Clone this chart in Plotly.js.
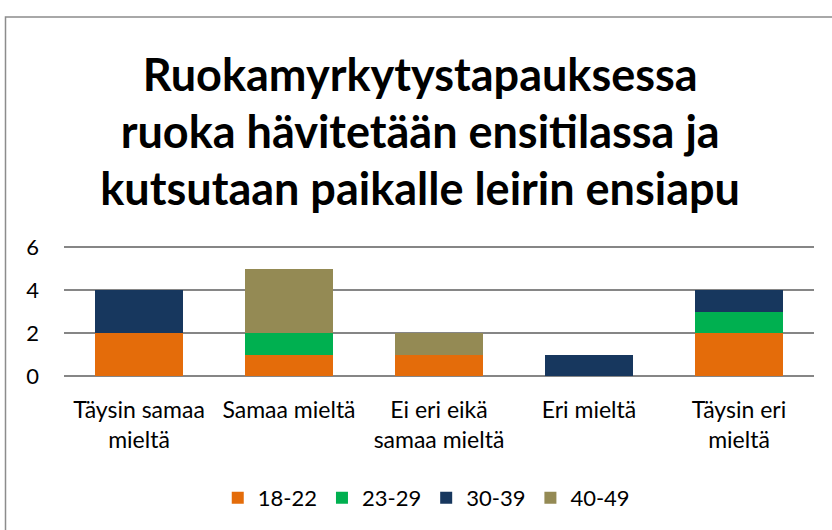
<!DOCTYPE html>
<html>
<head>
<meta charset="utf-8">
<script src="https://cdn.plot.ly/plotly-3.0.1.min.js"></script>
<style>html,body{margin:0;padding:0;background:#fff;}#chart{width:832px;height:530px;}</style>
</head>
<body>
<div id="chart"></div>
<script>
var categories = ["Täysin samaa<br>mieltä", "Samaa mieltä", "Ei eri eikä<br>samaa mieltä", "Eri mieltä", "Täysin eri<br>mieltä"];
var seriesNames = ["18-22", "23-29", "30-39", "40-49"];
var s18_22 = [2, 1, 1, 0, 2];
var s23_29 = [0, 1, 0, 0, 1];
var s30_39 = [2, 0, 0, 1, 1];
var s40_49 = [0, 3, 1, 0, 0];
var yTicks = [0, 2, 4, 6];
var titleLines = ["Ruokamyrkytystapauksessa", "ruoka hävitetään ensitilassa ja", "kutsutaan paikalle leirin ensiapu"];

var colors = ["#E46C0A", "#00B050", "#17375E", "#948A54"];
var allSeries = [s18_22, s23_29, s30_39, s40_49];
var FONT = "Lato, Carlito, Calibri, 'DejaVu Sans', sans-serif";

var traces = allSeries.map(function (vals, i) {
  return {
    type: "bar",
    name: seriesNames[i],
    x: categories,
    y: vals,
    marker: { color: colors[i], line: { width: 0 } },
    hoverinfo: "x+y+name"
  };
});

var layout = {
  width: 832,
  height: 530,
  barmode: "stack",
  bargap: 0.413,
  paper_bgcolor: "#ffffff",
  plot_bgcolor: "#ffffff",
  font: { family: FONT, color: "#000000", size: 22 },
  margin: { l: 64, r: 18, t: 245, b: 154 },
  title: {
    text: titleLines.map(function (t) { return '<span style="font-size:45px">' + t + '</span>'; }).join("<br>"),
    font: { family: FONT, size: 44, color: "#000000", weight: "bold" },
    x: 0.505,
    xanchor: "center",
    yref: "container",
    y: 0.829,
    yanchor: "middle"
  },
  xaxis: {
    type: "category",
    showgrid: false,
    zeroline: false,
    showline: false,
    ticks: "",
    tickfont: { family: FONT, size: 23, color: "#000000" },
    ticklabelstandoff: 18
  },
  yaxis: {
    range: [0, 6.1],
    tickvals: yTicks,
    showgrid: true,
    gridcolor: "#868686",
    gridwidth: 1.5,
    zeroline: true,
    zerolinecolor: "#868686",
    zerolinewidth: 1.5,
    showline: false,
    ticks: "",
    tickfont: { family: FONT, size: 22, color: "#000000" },
    ticklabelstandoff: 24
  },
  legend: {
    orientation: "h",
    x: 0.483,
    xanchor: "center",
    y: -0.93,
    yanchor: "middle",
    font: { family: FONT, size: 22, color: "#000000" },
    traceorder: "normal",
    itemwidth: 30,
    tracegroupgap: 0
  },
  shapes: [{
    type: "rect",
    xref: "paper", yref: "paper",
    x0: -0.078, x1: 2, y0: -2, y1: 2.74,
    line: { color: "#8C8C8C", width: 1.5 },
    fillcolor: "rgba(0,0,0,0)",
    layer: "below"
  }]
};

Plotly.newPlot("chart", traces, layout, { displayModeBar: false, staticPlot: true });
</script>
</body>
</html>
